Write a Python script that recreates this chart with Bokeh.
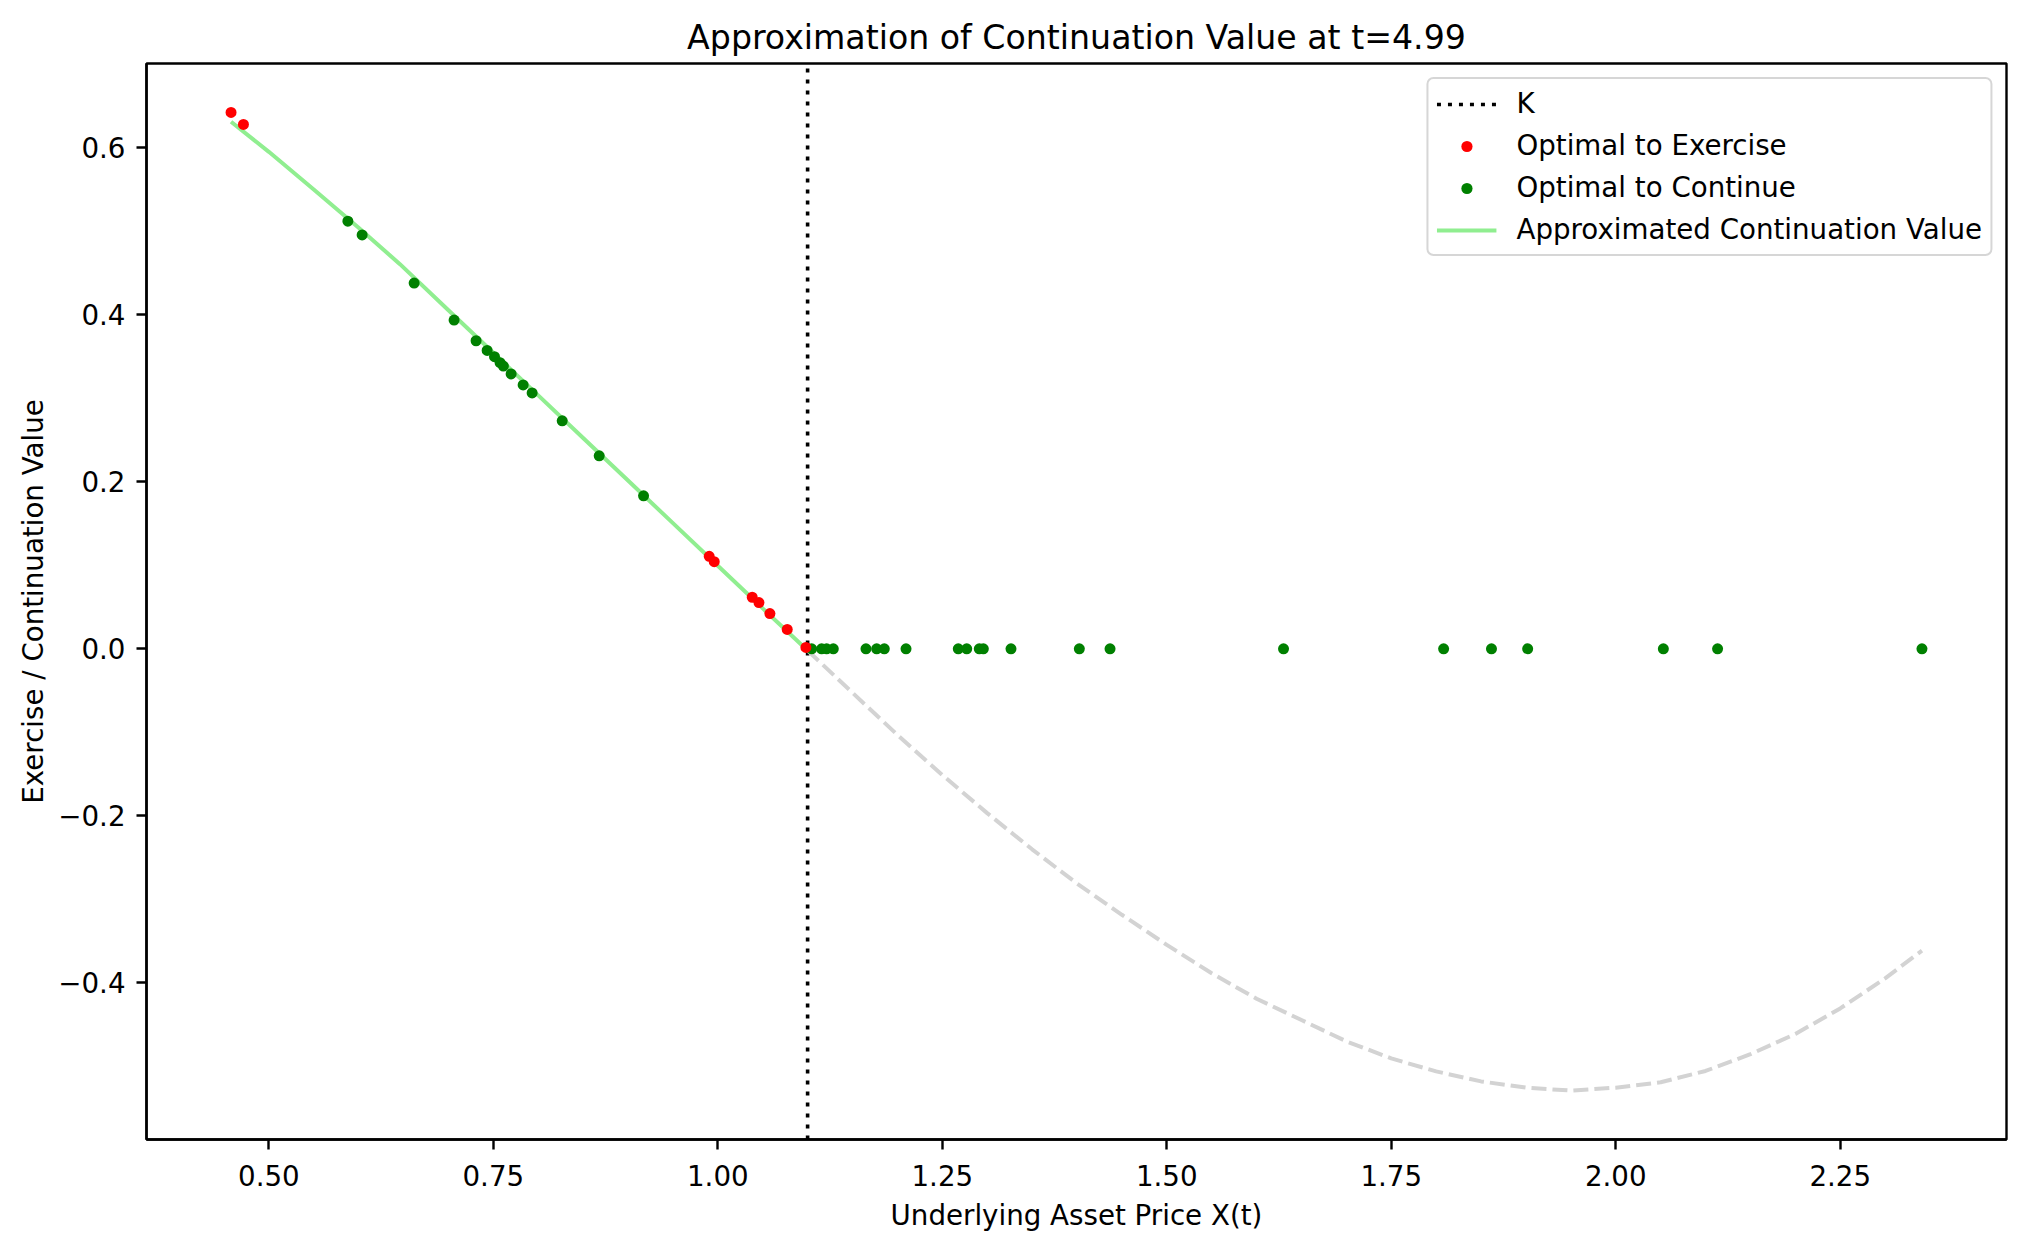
from bokeh.plotting import figure
from bokeh.models import Range1d, FixedTicker, Legend, LegendItem
from bokeh.embed import file_html
from bokeh.resources import INLINE

# ---------------- data ----------------
K = 1.1
title_text = "Approximation of Continuation Value at t=4.99"
x_label = "Underlying Asset Price X(t)"
y_label = "Exercise / Continuation Value"

exercise_x = [0.4579, 0.4717, 0.9904, 0.9960, 1.0383, 1.0458, 1.0580, 1.0773, 1.0981]
exercise_y = [0.6422, 0.6278, 0.1107, 0.1043, 0.0617, 0.0553, 0.0422, 0.0231, 0.0016]

continue_x = [0.5880, 0.6039, 0.6618, 0.7063, 0.7308, 0.7431, 0.7513, 0.7575, 0.7612,
              0.7698, 0.7832, 0.7932, 0.8267, 0.8679, 0.9173,
              1.1045, 1.1156, 1.1212, 1.1286, 1.1650, 1.1769, 1.1854, 1.2096, 1.2678,
              1.2772, 1.2912, 1.2957, 1.3265, 1.4026, 1.4368, 1.6300, 1.8083, 1.8616,
              1.9019, 2.0530, 2.1134, 2.3410]
continue_y = [0.5119, 0.4955, 0.4378, 0.3936, 0.3688, 0.3572, 0.3497, 0.3425, 0.3385,
              0.3290, 0.3159, 0.3063, 0.2729, 0.2310, 0.1832,
              0.0, 0.0, 0.0, 0.0, 0.0, 0.0, 0.0, 0.0, 0.0,
              0.0, 0.0, 0.0, 0.0, 0.0, 0.0, 0.0, 0.0, 0.0,
              0.0, 0.0, 0.0, 0.0]

# approximated continuation value, in-the-money part (solid light green)
approx_itm_x = [0.4579, 0.50, 0.55, 0.60, 0.646, 0.70, 0.75, 0.80, 0.85, 0.90, 0.95, 1.00, 1.05, 1.10]
approx_itm_y = [0.631, 0.595, 0.550, 0.504, 0.4605, 0.4054, 0.3544, 0.3034, 0.2524, 0.2014,
                0.1504, 0.0994, 0.0484, -0.002]

# approximated continuation value, out-of-the-money part (dashed light grey)
approx_otm_x = [1.10, 1.15, 1.20, 1.25, 1.30, 1.35, 1.40, 1.45, 1.50, 1.55, 1.60, 1.65, 1.70,
                1.75, 1.80, 1.85, 1.90, 1.95, 2.00, 2.05, 2.10, 2.15, 2.20, 2.25, 2.30, 2.341]
approx_otm_y = [-0.002, -0.0527, -0.1031, -0.1511, -0.1968, -0.2401, -0.2811, -0.3185,
                -0.3545, -0.3885, -0.419, -0.4445, -0.470, -0.4905, -0.506, -0.518,
                -0.5255, -0.529, -0.5255, -0.519, -0.5055, -0.4854, -0.4612, -0.4306,
                -0.3946, -0.3614]

x_ticks = [0.50, 0.75, 1.00, 1.25, 1.50, 1.75, 2.00, 2.25]
x_tick_labels = ["0.50", "0.75", "1.00", "1.25", "1.50", "1.75", "2.00", "2.25"]
y_ticks = [-0.4, -0.2, 0.0, 0.2, 0.4, 0.6]
y_tick_labels = ["\u22120.4", "\u22120.2", "0.0", "0.2", "0.4", "0.6"]

# ---------------- ranges with 5 % margins (like matplotlib autoscale) ----------------
all_x = exercise_x + continue_x + approx_itm_x + approx_otm_x
all_y = exercise_y + continue_y + approx_itm_y + approx_otm_y
xmin, xmax = min(all_x), max(all_x)
ymin, ymax = min(all_y), max(all_y)
dx = (xmax - xmin) * 0.05
dy = (ymax - ymin) * 0.05
y_lo, y_hi = ymin - dy, ymax + dy

FONT = "DejaVu Sans"
TXT = "27.7px"

p = figure(width=2010, height=1237, output_backend="svg", toolbar_location=None,
           x_range=Range1d(xmin - dx, xmax + dx), y_range=Range1d(y_lo, y_hi),
           min_border_left=146, min_border_right=4, min_border_top=63, min_border_bottom=98,
           background_fill_color="white", border_fill_color="white")

p.title.text = title_text
p.title.text_font = FONT
p.title.text_font_size = "33.2px"
p.title.text_font_style = "normal"
p.title.text_color = "black"
p.title.align = "center"
p.title.standoff = 14

p.xgrid.visible = False
p.ygrid.visible = False
p.outline_line_color = "black"
p.outline_line_width = 2.4
p.outline_line_alpha = 1.0

for ax in (p.xaxis[0], p.yaxis[0]):
    ax.axis_line_width = 2.4
    ax.axis_line_color = "black"
    ax.major_tick_line_width = 2.4
    ax.major_tick_line_color = "black"
    ax.major_tick_out = 10
    ax.major_tick_in = 0
    ax.minor_tick_line_color = None
    ax.major_label_text_font = FONT
    ax.major_label_text_font_size = TXT
    ax.major_label_text_color = "black"
    ax.axis_label_text_font = FONT
    ax.axis_label_text_font_size = TXT
    ax.axis_label_text_font_style = "normal"
    ax.axis_label_text_color = "black"

p.xaxis.ticker = FixedTicker(ticks=x_ticks, minor_ticks=[])
p.xaxis.major_label_overrides = dict(zip(x_ticks, x_tick_labels))
p.xaxis.axis_label = x_label
p.xaxis.major_label_standoff = 15
p.xaxis.axis_label_standoff = 10

p.yaxis.ticker = FixedTicker(ticks=y_ticks, minor_ticks=[])
p.yaxis.major_label_overrides = dict(zip(y_ticks, y_tick_labels))
p.yaxis.axis_label = y_label
p.yaxis.major_label_standoff = 11
p.yaxis.axis_label_standoff = 5

# K line (vertical, full height)
k_r = p.line(x=[K, K], y=[y_lo, y_hi], line_color="black", line_width=3.6, line_dash="4 7")

# approximated continuation value
green_line = p.line(approx_itm_x, approx_itm_y, line_color="#90ee90", line_width=4)
p.line(approx_otm_x, approx_otm_y, line_color="#d3d3d3", line_width=4, line_dash="15 6")

# points
cont_r = p.scatter(continue_x, continue_y, size=11, fill_color="#008000", line_color=None)
ex_r = p.scatter(exercise_x, exercise_y, size=11, fill_color="#ff0000", line_color=None)

legend = Legend(items=[
    LegendItem(label="K", renderers=[k_r]),
    LegendItem(label="Optimal to Exercise", renderers=[ex_r]),
    LegendItem(label="Optimal to Continue", renderers=[cont_r]),
    LegendItem(label="Approximated Continuation Value", renderers=[green_line]),
], location="top_right")
legend.margin = 14
legend.padding = 8
legend.spacing = 9
legend.glyph_width = 60
legend.glyph_height = 28
legend.label_height = 33
legend.label_standoff = 20
legend.label_text_font = FONT
legend.label_text_font_size = TXT
legend.label_text_color = "black"
legend.background_fill_color = "white"
legend.background_fill_alpha = 0.8
legend.border_line_color = "#cccccc"
legend.border_line_width = 2.4
legend.border_line_alpha = 0.8
if "border_radius" in legend.properties():
    legend.border_radius = 7
p.add_layout(legend)

open("out.html", "w").write(file_html(p, INLINE))
